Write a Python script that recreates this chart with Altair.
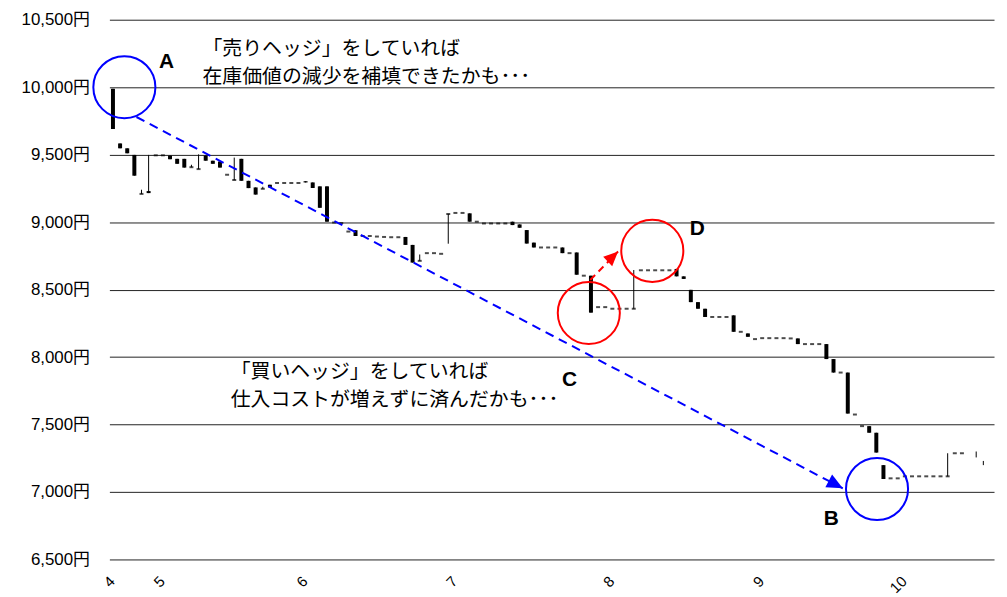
import altair as alt
import pandas as pd

# ---- daily candle data (trading-day index 0..122) ----
opens = [9988, 9583, 9547, 9498, 9209, 9230, 9495, 9495, 9493, 9469,
         9469, 9407, 9393, 9493, 9455, 9449, 9351, 9312, 9469, 9306,
         9257, 9247, 9277, 9290, 9290, 9290, 9290, 9303, 9294, 9265,
         9265, 8997, 8993, 8930, 8940, 8897, 8897, 8893, 8890, 8888,
         8888, 8890, 8831, 8713, 8770, 8770, 8765, 9060, 9068, 9068,
         9065, 9003, 8990, 8990, 8990, 8990, 9003, 8983, 8941, 8848,
         8812, 8812, 8812, 8812, 8770, 8775, 8603, 8603, 8370, 8370,
         8358, 8358, 8358, 8358, 8643, 8643, 8643, 8643, 8643, 8653,
         8598, 8498, 8407, 8358, 8297, 8297, 8297, 8309, 8187, 8175,
         8133, 8140, 8140, 8140, 8140, 8138, 8138, 8096, 8096, 8096,
         8096, 7985, 7885, 7885, 7574, 7488, 7488, 7439, 7199, 7101,
         7101, 7116, 7116, 7116, 7116, 7116, 7116, 7116, 7287, 7287,
         None, None, None]
closes = [9690, 9547, 9510, 9344, 9209, 9215, 9495, 9495, 9466, 9432,
          9404, 9407, 9393, 9455, 9432, 9404, 9351, 9312, 9306, 9252,
          9204, 9247, 9257, 9290, 9290, 9290, 9290, 9294, 9253, 9106,
          9003, 8997, 8993, 8930, 8897, 8897, 8897, 8893, 8890, 8888,
          8888, 8831, 8700, 8713, 8770, 8770, 8765, 9060, 9068, 9068,
          9003, 9003, 8990, 8990, 8990, 8990, 8978, 8958, 8841, 8812,
          8812, 8812, 8812, 8770, 8770, 8610, 8603, 8329, 8370, 8370,
          8358, 8358, 8358, 8358, 8643, 8643, 8643, 8643, 8643, 8598,
          8579, 8407, 8358, 8297, 8297, 8297, 8297, 8187, 8187, 8150,
          8133, 8140, 8140, 8140, 8140, 8138, 8096, 8096, 8096, 8096,
          7985, 7885, 7885, 7581, 7574, 7488, 7439, 7292, 7096, 7101,
          7101, 7116, 7116, 7116, 7116, 7116, 7116, 7116, 7287, 7287,
          None, None, None]
# high / low wicks: index -> (high, low)
wicks = {4: (9240, 9209), 5: (9498, 9215), 11: (9425, 9407), 12: (9502, 9393),
         17: (9478, 9312), 21: (9262, 9247), 43: (8760, 8713), 47: (9060, 8840),
         73: (8645, 8358), 117: (7287, 7116), 121: (7300, 7256), 122: (7230, 7199)}

month_idx = [0, 7, 27, 48, 70, 91, 111]
month_lbl = ["4", "5", "6", "7", "8", "9", "10"]
y_ticks = [6500, 7000, 7500, 8000, 8500, 9000, 9500, 10000, 10500]

rows = []
for i, (o, c) in enumerate(zip(opens, closes)):
    if o is None:
        if i in wicks:
            h, l = wicks[i]
            rows.append({"i": i, "o": None, "c": None, "h": h, "l": l, "kind": "wick"})
        continue
    h, l = wicks.get(i, (max(o, c), min(o, c)))
    rows.append({"i": i, "o": o, "c": c, "h": h, "l": l,
                 "kind": "doji" if o == c else "body"})
df = pd.DataFrame(rows)

# ---- annotations (data coordinates) ----
circ_i = [1.6, 107.1, 66.7, 75.6]
circ_p = [10000, 7022, 8327, 8787]
circ_col = ["#0000FF", "#0000FF", "#FF0000", "#FF0000"]
let_i = [7.5, 100.7, 64.0, 81.9]
let_p = [10184, 6801, 7831, 8949]
let_t = ["A", "B", "C", "D"]
blue_i = [3.3, 102.3]
blue_p = [9779, 7027]
red_i = [66.9, 70.8]
red_p = [8571, 8782]
txt_i = [12.55, 12.55, 16.5, 16.5]
txt_p = [10279, 10074, 7890, 7684]
txt_t = ["「売りヘッジ」をしていれば", "在庫価値の減少を補填できたかも･･･",
         "「買いヘッジ」をしていれば", "仕入コストが増えずに済んだかも･･･"]

lbl_expr = "".join(f"datum.value == {v} ? '{t}' : " for v, t in zip(month_idx, month_lbl)) + "''"

xs = alt.Scale(domain=[-0.5, 123.5], nice=False, zero=False, padding=0)
ys = alt.Scale(domain=[6500, 10500], nice=False, zero=False, padding=0)

X = alt.X("i:Q", scale=xs, axis=alt.Axis(values=month_idx, labelExpr=lbl_expr, labelAngle=-45,
                                         grid=False, domain=False, ticks=False, labelPadding=14,
                                         labelOffset=-6,
                                         labelFont="Liberation Sans", labelFontSize=15,
                                         labelColor="black", title=None))
Y = alt.Y("o:Q", scale=ys, axis=alt.Axis(values=y_ticks,
                                         labelExpr="format(datum.value, ',') + '円'",
                                         grid=True, gridColor="#222", gridWidth=1,
                                         domain=False, ticks=False, labelPadding=20,
                                         labelFont="Liberation Sans, Noto Sans CJK JP",
                                         labelFontSize=17, labelColor="black", title=None))

base = alt.Chart(df)
body = base.transform_filter("datum.kind == 'body'").mark_bar(color="black", size=4).encode(
    x=X, y=Y, y2="c:Q")
wick = base.mark_rule(color="black", strokeWidth=1).encode(
    x=alt.X("i:Q", scale=xs), y=alt.Y("h:Q", scale=ys), y2="l:Q")
dash = base.transform_filter("datum.kind == 'doji'").mark_tick(
    color="black", orient="horizontal", size=4, thickness=2).encode(
    x=alt.X("i:Q", scale=xs), y=alt.Y("o:Q", scale=ys))

cdf = pd.DataFrame({"i": circ_i, "p": circ_p, "col": circ_col})
circles = alt.Chart(cdf).mark_point(shape="circle", filled=False, size=3900, strokeWidth=2,
                                    opacity=1).encode(
    x=alt.X("i:Q", scale=xs), y=alt.Y("p:Q", scale=ys), color=alt.Color("col:N", scale=None))

ldf = pd.DataFrame({"i": let_i, "p": let_p, "t": let_t})
letters = alt.Chart(ldf).mark_text(font="Liberation Sans", fontSize=21, fontWeight="bold",
                                   color="black").encode(
    x=alt.X("i:Q", scale=xs), y=alt.Y("p:Q", scale=ys), text="t:N")

tdf = pd.DataFrame({"i": txt_i, "p": txt_p, "t": txt_t})
texts = alt.Chart(tdf).mark_text(font="Noto Sans CJK JP", fontSize=20, align="left",
                                 baseline="middle", color="black").encode(
    x=alt.X("i:Q", scale=xs), y=alt.Y("p:Q", scale=ys), text="t:N")

bdf = pd.DataFrame({"i": blue_i, "p": blue_p})
bline = alt.Chart(bdf).mark_line(color="#0000FF", strokeWidth=2, strokeDash=[9, 6]).encode(
    x=alt.X("i:Q", scale=xs), y=alt.Y("p:Q", scale=ys))
bhead = alt.Chart(bdf.tail(1)).mark_point(shape="M0,0L-0.9,2L0.9,2Z", filled=True, size=256,
                                           angle=118, color="#0000FF", opacity=1).encode(
    x=alt.X("i:Q", scale=xs), y=alt.Y("p:Q", scale=ys))

rdf = pd.DataFrame({"i": red_i, "p": red_p})
rline = alt.Chart(rdf).mark_line(color="#FF0000", strokeWidth=2, strokeDash=[7, 5]).encode(
    x=alt.X("i:Q", scale=xs), y=alt.Y("p:Q", scale=ys))
rhead = alt.Chart(rdf.tail(1)).mark_point(shape="M0,0L-0.9,2L0.9,2Z", filled=True, size=210,
                                           angle=46, color="#FF0000", opacity=1).encode(
    x=alt.X("i:Q", scale=xs), y=alt.Y("p:Q", scale=ys))

chart = alt.layer(body, wick, dash, bline, bhead, rline, rhead, circles, letters, texts).properties(
    width=890, height=543,
    autosize=alt.AutoSizeParams(type="none"),
    padding={"left": 102, "top": 10, "right": 5, "bottom": 36},
    background="white",
).configure_view(stroke=None)

chart.save("out.html", embed_options={"renderer": "svg", "actions": False})
